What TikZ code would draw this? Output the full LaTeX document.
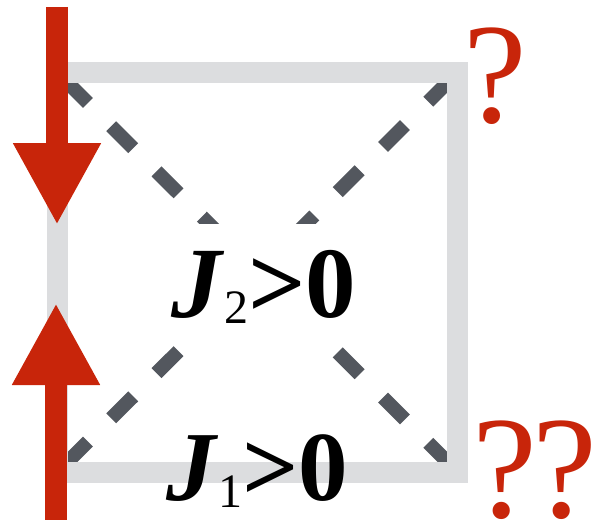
\documentclass[tikz,border=0pt]{standalone}
\usepackage{fontspec}
\setmainfont{Liberation Serif}
\usetikzlibrary{arrows.meta}
\definecolor{edgegray}{HTML}{DCDDDF}
\definecolor{diaggray}{HTML}{53575E}
\definecolor{spinred}{HTML}{C8250A}
\tikzset{
  border/.style={draw=edgegray, line width=21pt},
  diag/.style={draw=diaggray, line width=14pt, dash pattern=on 31pt off 33pt, dash phase=52pt},
  spin/.style={draw=spinred, line width=22pt, -{Triangle[width=82pt,length=82pt,fill=spinred]}},
  coupling/.style={anchor=base west, inner sep=0pt, text=black},
  qmark/.style={anchor=base west, inner sep=0pt, text=spinred}
}
\begin{document}
\begin{tikzpicture}[x=1pt,y=-1pt]
\useasboundingbox (0,0) rectangle (591,519);
% square corners
\coordinate (tl) at (57.5,72.5);
\coordinate (tr) at (457.5,72.5);
\coordinate (br) at (457.5,472);
\coordinate (bl) at (57.5,472);
% diagonals
\draw[diag] (tl) -- (br);
\draw[diag] (bl) -- (tr);
% square border
\draw[border] (tl) rectangle (br);
% white box behind J2
\fill[white] (165,224) rectangle (358,340);
% spins
\coordinate (s1a) at (57,7);
\coordinate (s1b) at (57,225);
\coordinate (s2a) at (56,530);
\coordinate (s2b) at (56,303);
\draw[spin] (s1a) -- (s1b);
\draw[spin] (s2a) -- (s2b);
% couplings
\node[coupling] (j2) at (171,317) {\fontsize{101}{104}\selectfont\textbf{\textit{J}}\raisebox{-6pt}{\fontsize{48}{50}\selectfont 2}\textbf{>0}};
\node[coupling] (j1) at (166,500) {\fontsize{99}{102}\selectfont\textbf{\textit{J}}\raisebox{-7pt}{\fontsize{48}{50}\selectfont 1}\textbf{>0}};
% question marks
\node[qmark] (q1) at (463,122) {\fontsize{143}{150}\selectfont ?};
\node[qmark] (q2) at (472,517) {\fontsize{146}{150}\selectfont ?\kern-5pt?};
\end{tikzpicture}
\end{document}
